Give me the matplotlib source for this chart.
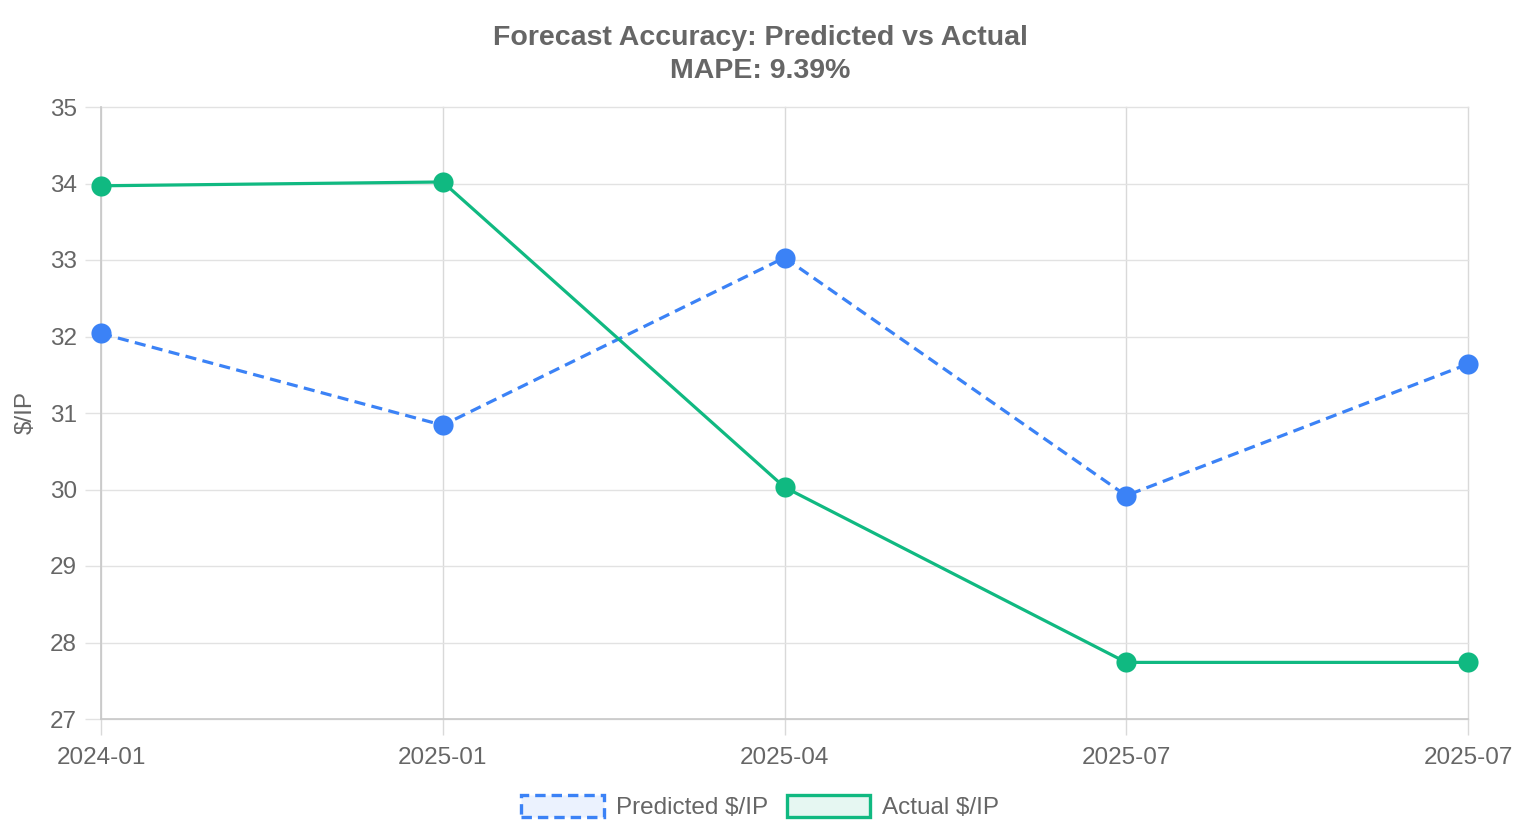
import matplotlib
matplotlib.use("Agg")
import matplotlib.pyplot as plt
from matplotlib.patches import Patch
import numpy as np

plt.rcParams['font.family'] = ['Liberation Sans', 'DejaVu Sans']
plt.rcParams['lines.scale_dashes'] = False

categories = ["2024-01", "2025-01", "2025-04", "2025-07", "2025-07"]
predicted = [32.04, 30.84, 33.03, 29.92, 31.64]
actual = [33.97, 34.02, 30.03, 27.74, 27.74]
mape = 9.39

blue = "#3b82f6"
green = "#10b981"
txt = "#666666"

fig = plt.figure(figsize=(15.2, 8.4), dpi=100)
ax = fig.add_axes([101/1520, 1-719/840, (1468-101)/1520, (719-107)/840])

x = np.arange(len(categories))
ax.plot(x, predicted, color=blue, lw=2.3, dashes=(8, 4.6), marker='o', ms=14.5,
        markeredgewidth=0, zorder=3, clip_on=False)
ax.plot(x, actual, color=green, lw=2.3, marker='o', ms=14.5,
        markeredgewidth=0, zorder=3, clip_on=False)

ax.set_xlim(0, len(categories)-1)
ax.set_ylim(27, 35)
ax.set_xticks(x)
ax.set_xticklabels(categories)
ax.set_yticks(np.arange(27, 36, 1))
ax.grid(True, axis='y', color='#e2e2e2', lw=1)
ax.grid(True, axis='x', color='#d9d9d9', lw=1)
for gl in ax.get_xgridlines() + ax.get_ygridlines():
    gl.set_clip_on(False)
ax.set_axisbelow(True)
for s in ['top', 'right']:
    ax.spines[s].set_visible(False)
for s in ['left', 'bottom']:
    ax.spines[s].set_color('#c8c8c8')
    ax.spines[s].set_linewidth(1.2)
ax.tick_params(axis='both', colors='#e2e2e2', labelcolor=txt, labelsize=17.5, length=11.5, width=1, pad=6)
ax.tick_params(axis='x', colors='#d9d9d9', labelcolor=txt, pad=9)
ax.set_ylabel("$/IP", color=txt, fontsize=17.5, labelpad=9.5)

fig.text(0.5, 1-38/840, "Forecast Accuracy: Predicted vs Actual", ha='center', va='center',
         fontsize=20.5, fontweight='bold', color=txt)
fig.text(0.5, 1-71/840, f"MAPE: {mape:.2f}%", ha='center', va='center',
         fontsize=20.5, fontweight='bold', color=txt)

handles = [
    Patch(facecolor=(59/255, 130/255, 246/255, 0.1), edgecolor=blue, linewidth=2.4, linestyle=(0, (7.5, 4.3)), label="Predicted $/IP"),
    Patch(facecolor=(16/255, 185/255, 129/255, 0.1), edgecolor=green, linewidth=2.4, label="Actual $/IP"),
]
leg = fig.legend(handles=handles, loc='center', bbox_to_anchor=(0.5, 1-807/840), ncol=2,
                 frameon=False, fontsize=17.5, handlelength=3.4, handleheight=1.05,
                 columnspacing=0.8, handletextpad=0.5)
for t in leg.get_texts():
    t.set_color(txt)

fig.savefig("out.png", dpi=100)
